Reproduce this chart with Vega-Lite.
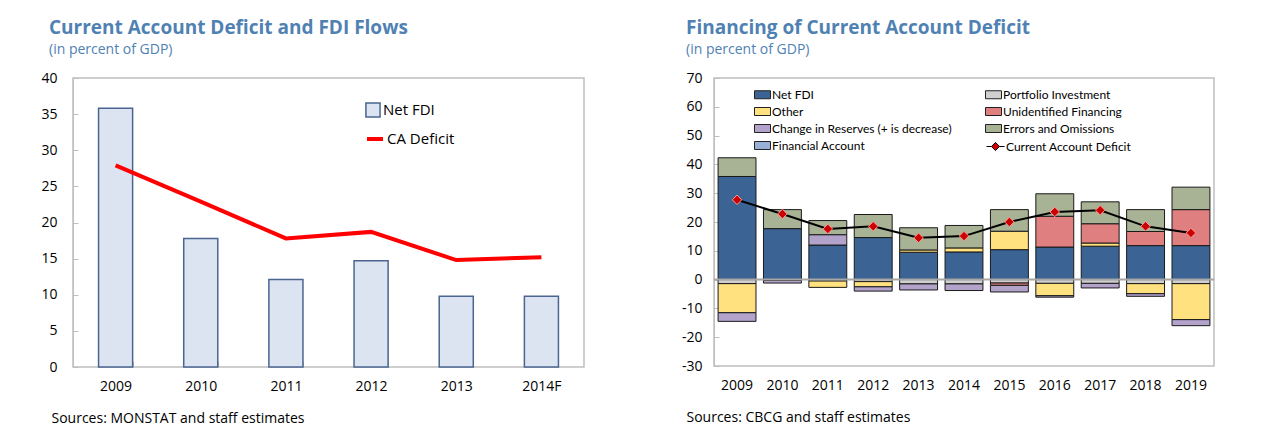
{
  "$schema": "https://vega.github.io/schema/vega-lite/v6.json",
  "background": "white",
  "padding": {"left": 40, "top": 18, "right": 5, "bottom": 5},
  "spacing": 95,
  "config": {
    "font": "Open Sans",
    "view": {"stroke": "#bfbfbf", "strokeWidth": 1.5},
    "axis": {"labelFont": "Open Sans", "labelFontSize": 14, "labelColor": "#000000", "labelOverlap": false, "domainColor": "#bfbfbf", "tickColor": "#bfbfbf", "grid": false, "titleFont": "Open Sans", "titleFontWeight": "normal", "titleFontSize": 14, "titleColor": "#000000"},
    "title": {"anchor": "start", "frame": "group", "font": "Open Sans", "fontSize": 19, "fontWeight": "bold", "color": "#4f81b3", "subtitleFont": "Open Sans", "subtitleFontSize": 14, "subtitleColor": "#4f81b3", "subtitlePadding": 5, "offset": 14},
    "legend": {"labelFont": "Open Sans", "labelColor": "#000000", "labelLimit": 400}
  },
  "resolve": {"scale": {"x": "independent", "y": "independent", "fill": "independent", "stroke": "independent"}, "legend": {"fill": "independent", "stroke": "independent"}},
  "hconcat": [
    {
      "width": 511,
      "height": 289,
      "title": {"text": "Current Account Deficit and FDI Flows", "subtitle": "(in percent of GDP)", "dx": -24},
      "data": {"values": [
        {"year": "2009", "fdi": 35.8, "ca": 27.9},
        {"year": "2010", "fdi": 17.8, "ca": 22.9},
        {"year": "2011", "fdi": 12.1, "ca": 17.8},
        {"year": "2012", "fdi": 14.7, "ca": 18.7},
        {"year": "2013", "fdi": 9.8, "ca": 14.8},
        {"year": "2014F", "fdi": 9.8, "ca": 15.2}
      ]},
      "encoding": {
        "x": {"field": "year", "type": "nominal", "scale": {"paddingInner": 0.6, "paddingOuter": 0.3},
          "axis": {"title": "Sources: MONSTAT and staff estimates", "titleX": -22, "titleY": 55, "titleAlign": "left", "titleBaseline": "alphabetic", "labelAngle": 0, "labelPadding": 18, "labelOverlap": false, "domain": false, "ticks": true, "tickBand": "extent", "tickSize": -6}}
      },
      "layer": [
        {
          "mark": {"type": "bar", "stroke": "#4a6690", "strokeWidth": 1.5},
          "encoding": {
            "y": {"field": "fdi", "type": "quantitative", "scale": {"domain": [0, 40]}, "axis": {"title": null, "values": [0, 5, 10, 15, 20, 25, 30, 35, 40], "labelOverlap": false, "tickSize": -5, "labelPadding": 21}},
            "fill": {"datum": "Net FDI", "scale": {"range": ["#dce3f1"]}, "legend": {"title": null, "orient": "none", "legendX": 292, "legendY": 24, "symbolType": "square", "symbolSize": 200, "symbolStrokeColor": "#4a6690", "symbolStrokeWidth": 1.5, "labelFontSize": 15, "labelOffset": 2}}
          }
        },
        {
          "mark": {"type": "line", "strokeWidth": 4},
          "encoding": {
            "y": {"field": "ca", "type": "quantitative", "axis": {"title": null, "values": [0, 5, 10, 15, 20, 25, 30, 35, 40], "labelOverlap": false, "tickSize": -5, "labelPadding": 21}},
            "stroke": {"datum": "CA Deficit", "scale": {"range": ["#ff0000"]}, "legend": {"title": null, "orient": "none", "legendX": 292, "legendY": 51, "symbolType": "stroke", "symbolSize": 256, "symbolStrokeWidth": 4, "labelFontSize": 15, "labelOffset": 2}}
          }
        }
      ]
    },
    {
      "width": 500,
      "height": 288,
      "title": {"text": "Financing of Current Account Deficit", "subtitle": "(in percent of GDP)", "dx": -28},
      "resolve": {"scale": {"fill": "independent"}, "legend": {"fill": "independent"}},
      "encoding": {
        "x": {"field": "year", "type": "nominal", "scale": {"paddingInner": 0.165, "paddingOuter": 0.09},
          "axis": {"title": "Sources: CBCG and staff estimates", "titleX": -28, "titleY": 55, "titleAlign": "left", "titleBaseline": "alphabetic", "labelAngle": 0, "labelPadding": 12, "labelOverlap": false, "domain": false, "ticks": false}}
      },
      "layer": [
        {
          "data": {"values": [
            {"year": "2009", "component": "Net FDI", "value": 35.8},
            {"year": "2009", "component": "Errors and Omissions", "value": 6.5},
            {"year": "2009", "component": "Portfolio Investment", "value": -1.4},
            {"year": "2009", "component": "Other", "value": -10.1},
            {"year": "2009", "component": "Change in Reserves (+ is decrease)", "value": -3.0},
            {"year": "2010", "component": "Net FDI", "value": 17.7},
            {"year": "2010", "component": "Errors and Omissions", "value": 6.6},
            {"year": "2010", "component": "Portfolio Investment", "value": -0.3},
            {"year": "2010", "component": "Change in Reserves (+ is decrease)", "value": -0.9},
            {"year": "2011", "component": "Net FDI", "value": 12.0},
            {"year": "2011", "component": "Change in Reserves (+ is decrease)", "value": 3.6},
            {"year": "2011", "component": "Errors and Omissions", "value": 4.9},
            {"year": "2011", "component": "Portfolio Investment", "value": -0.5},
            {"year": "2011", "component": "Other", "value": -2.2},
            {"year": "2012", "component": "Net FDI", "value": 14.6},
            {"year": "2012", "component": "Errors and Omissions", "value": 8.0},
            {"year": "2012", "component": "Portfolio Investment", "value": -0.7},
            {"year": "2012", "component": "Other", "value": -1.8},
            {"year": "2012", "component": "Change in Reserves (+ is decrease)", "value": -1.5},
            {"year": "2013", "component": "Net FDI", "value": 9.5},
            {"year": "2013", "component": "Other", "value": 0.8},
            {"year": "2013", "component": "Errors and Omissions", "value": 7.7},
            {"year": "2013", "component": "Portfolio Investment", "value": -1.5},
            {"year": "2013", "component": "Change in Reserves (+ is decrease)", "value": -2.1},
            {"year": "2014", "component": "Net FDI", "value": 9.6},
            {"year": "2014", "component": "Other", "value": 1.4},
            {"year": "2014", "component": "Errors and Omissions", "value": 7.8},
            {"year": "2014", "component": "Portfolio Investment", "value": -1.5},
            {"year": "2014", "component": "Change in Reserves (+ is decrease)", "value": -2.3},
            {"year": "2015", "component": "Net FDI", "value": 10.4},
            {"year": "2015", "component": "Other", "value": 6.4},
            {"year": "2015", "component": "Errors and Omissions", "value": 7.5},
            {"year": "2015", "component": "Portfolio Investment", "value": -1.2},
            {"year": "2015", "component": "Unidentified Financing", "value": -0.8},
            {"year": "2015", "component": "Change in Reserves (+ is decrease)", "value": -2.3},
            {"year": "2016", "component": "Net FDI", "value": 11.3},
            {"year": "2016", "component": "Unidentified Financing", "value": 10.7},
            {"year": "2016", "component": "Errors and Omissions", "value": 7.8},
            {"year": "2016", "component": "Portfolio Investment", "value": -1.3},
            {"year": "2016", "component": "Other", "value": -4.3},
            {"year": "2016", "component": "Change in Reserves (+ is decrease)", "value": -0.5},
            {"year": "2017", "component": "Net FDI", "value": 11.6},
            {"year": "2017", "component": "Other", "value": 1.1},
            {"year": "2017", "component": "Unidentified Financing", "value": 6.7},
            {"year": "2017", "component": "Errors and Omissions", "value": 7.6},
            {"year": "2017", "component": "Portfolio Investment", "value": -1.3},
            {"year": "2017", "component": "Change in Reserves (+ is decrease)", "value": -1.6},
            {"year": "2018", "component": "Net FDI", "value": 11.8},
            {"year": "2018", "component": "Unidentified Financing", "value": 4.9},
            {"year": "2018", "component": "Errors and Omissions", "value": 7.6},
            {"year": "2018", "component": "Portfolio Investment", "value": -1.4},
            {"year": "2018", "component": "Other", "value": -3.5},
            {"year": "2018", "component": "Change in Reserves (+ is decrease)", "value": -0.9},
            {"year": "2019", "component": "Net FDI", "value": 11.8},
            {"year": "2019", "component": "Unidentified Financing", "value": 12.5},
            {"year": "2019", "component": "Errors and Omissions", "value": 7.8},
            {"year": "2019", "component": "Portfolio Investment", "value": -1.4},
            {"year": "2019", "component": "Other", "value": -12.5},
            {"year": "2019", "component": "Change in Reserves (+ is decrease)", "value": -2.1}
          ]},
          "transform": [
            {"calculate": "indexof(['Net FDI', 'Portfolio Investment', 'Other', 'Unidentified Financing', 'Change in Reserves (+ is decrease)', 'Errors and Omissions', 'Financial Account'], datum.component)", "as": "stackOrder"}
          ],
          "mark": {"type": "bar", "stroke": "#1a1a1a", "strokeWidth": 1},
          "encoding": {
            "y": {"field": "value", "type": "quantitative", "stack": "zero", "scale": {"domain": [-30, 70]}, "axis": {"title": null, "values": [-30, -20, -10, 0, 10, 20, 30, 40, 50, 60, 70], "labelExpr": "toString(datum.value)", "labelOverlap": false, "tickSize": -5, "labelPadding": 17}},
            "order": {"field": "stackOrder", "type": "quantitative"},
            "fill": {"field": "component", "type": "nominal",
              "sort": ["Net FDI", "Portfolio Investment", "Other", "Unidentified Financing", "Change in Reserves (+ is decrease)", "Errors and Omissions", "Financial Account"],
              "scale": {"domain": ["Net FDI", "Portfolio Investment", "Other", "Unidentified Financing", "Change in Reserves (+ is decrease)", "Errors and Omissions", "Financial Account"],
                        "range": ["#3b6494", "#d0d0d0", "#ffe17f", "#e07f7f", "#b3a3cb", "#a8b294", "#98b0d8"]},
              "legend": {"title": null, "orient": "none", "direction": "horizontal", "legendX": 40, "legendY": 8, "columns": 2, "columnPadding": 31, "rowPadding": 2, "symbolType": "M-1,-0.5H1V0.5H-1Z", "symbolSize": 256, "symbolStrokeColor": "#222222", "symbolStrokeWidth": 1, "labelFont": "Lato", "labelFontSize": 12, "labelOffset": 1}}
          }
        },
        {
          "data": {"values": [{"zero": 0}]},
          "mark": {"type": "rule", "color": "#a6a6a6", "strokeWidth": 2},
          "encoding": {"y": {"field": "zero", "type": "quantitative", "axis": {"title": null, "values": [-30, -20, -10, 0, 10, 20, 30, 40, 50, 60, 70], "labelExpr": "toString(datum.value)", "labelOverlap": false, "tickSize": -5, "labelPadding": 17}}, "x": null}
        },
        {
          "data": {"values": [
            {"year": "2009", "ca": 27.7}, {"year": "2010", "ca": 22.8}, {"year": "2011", "ca": 17.6},
            {"year": "2012", "ca": 18.5}, {"year": "2013", "ca": 14.5}, {"year": "2014", "ca": 15.1},
            {"year": "2015", "ca": 20.0}, {"year": "2016", "ca": 23.5}, {"year": "2017", "ca": 24.1},
            {"year": "2018", "ca": 18.5}, {"year": "2019", "ca": 16.2}
          ]},
          "layer": [
            {
              "mark": {"type": "line", "strokeWidth": 2, "color": "#000000"},
              "encoding": {
                "y": {"field": "ca", "type": "quantitative", "axis": {"title": null, "values": [-30, -20, -10, 0, 10, 20, 30, 40, 50, 60, 70], "labelExpr": "toString(datum.value)", "labelOverlap": false, "tickSize": -5, "labelPadding": 17}}
              }
            },
            {
              "mark": {"type": "point", "shape": "diamond", "filled": true, "stroke": "#ff9a9a", "strokeWidth": 1, "size": 90, "opacity": 1},
              "encoding": {
                "y": {"field": "ca", "type": "quantitative", "axis": {"title": null, "values": [-30, -20, -10, 0, 10, 20, 30, 40, 50, 60, 70], "labelExpr": "toString(datum.value)", "labelOverlap": false, "tickSize": -5, "labelPadding": 17}},
                "fill": {"datum": "Current Account Deficit", "scale": {"range": ["#cc0000"]}, "legend": {"title": null, "orient": "none", "legendX": 272, "legendY": 59, "symbolType": "M-1,0H-0.45M0.45,0H1M-0.45,0L0,-0.45L0.45,0L0,0.45Z", "symbolSize": 324, "symbolFillColor": "#cc0000", "symbolStrokeColor": "#000000", "symbolStrokeWidth": 1, "labelFont": "Lato", "labelFontSize": 12, "labelOffset": 1}}
              }
            }
          ]
        }
      ]
    }
  ]
}
